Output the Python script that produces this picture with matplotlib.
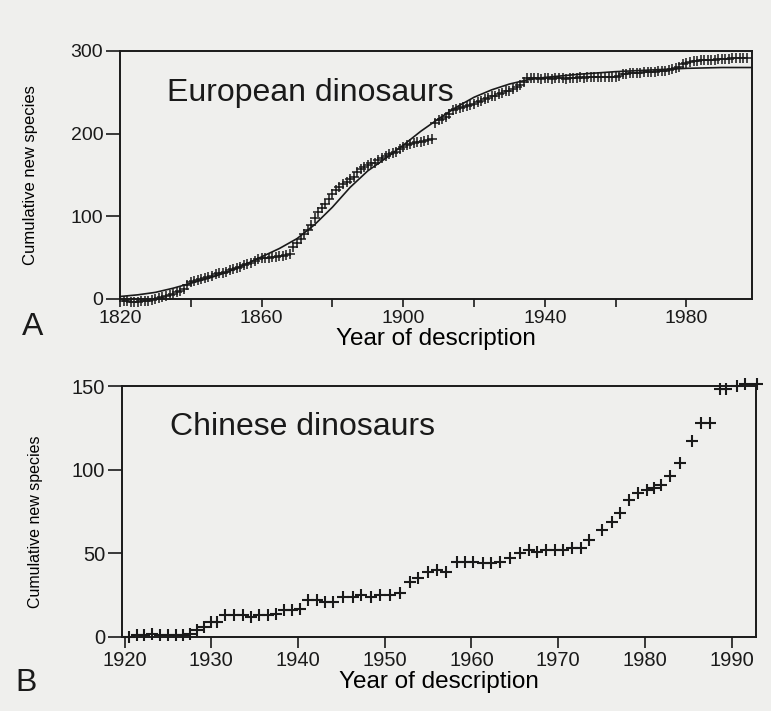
import matplotlib.pyplot as plt

# European dinosaurs: cumulative new species, one reading per year 1821-1997
eu_years = list(range(1821, 1998))
eu_counts = [-2, -3, -4, -4, -4, -3, -3, -2, -1, 0,            # 1821-1830
             1, 2, 3, 5, 6, 8, 10, 12, 17, 20,                 # 1831-1840
             22, 23, 24, 25, 27, 28, 30, 31, 32, 33,           # 1841-1850
             35, 36, 37, 39, 41, 42, 44, 46, 48, 49,           # 1851-1860
             50, 50, 51, 51, 52, 52, 53, 55, 63, 68,           # 1861-1870
             73, 78, 84, 90, 98, 105, 110, 115, 121, 127,      # 1871-1880
             132, 136, 139, 142, 145, 148, 153, 157, 160, 162,  # 1881-1890
             164, 165, 168, 170, 173, 175, 177, 178, 181, 184,  # 1891-1900
             186, 187, 189, 190, 190, 191, 192, 193, 213, 216,  # 1901-1910
             218, 220, 224, 228, 230, 231, 232, 233, 235, 236,  # 1911-1920
             238, 240, 242, 243, 245, 246, 248, 249, 251, 252,  # 1921-1930
             254, 256, 259, 262, 267, 267, 267, 267, 266, 267,  # 1931-1940
             267, 266, 267, 267, 267, 266, 267, 267, 267, 268,  # 1941-1950
             267, 268, 268, 268, 268, 268, 268, 268, 268, 268,  # 1951-1960
             270, 272, 272, 273, 273, 273, 273, 274, 274, 275,  # 1961-1970
             275, 276, 276, 276, 277, 278, 279, 281, 284, 286,  # 1971-1980
             287, 288, 288, 289, 289, 289, 289, 289, 290, 290,  # 1981-1990
             290, 290, 291, 291, 291, 291, 291]                 # 1991-1997

# fitted curve
fit_years = [1820, 1825, 1830, 1835, 1840, 1845, 1850, 1855, 1860, 1865,
             1870, 1875, 1880, 1885, 1890, 1895, 1900, 1905, 1910, 1915,
             1920, 1925, 1930, 1935, 1940, 1950, 1960, 1970, 1980, 1990, 1998.5]
fit_counts = [3, 5, 8, 13, 19, 25, 32, 41, 51, 61,
              73, 90, 111, 135, 155, 170, 186, 203, 218, 232,
              244, 253, 260, 265, 268, 272, 275, 277, 279, 280, 280]

# Chinese dinosaurs
cn_years = [1920.5, 1921.4, 1922.2, 1923.2, 1924.1, 1925.0, 1925.9, 1926.7,
            1927.5, 1928.3, 1929.2, 1930.0, 1930.7, 1931.6, 1932.6, 1933.6,
            1934.6, 1935.5, 1936.5, 1937.5, 1938.4, 1939.3, 1940.2, 1941.2,
            1942.2, 1943.1, 1944.0, 1945.2, 1946.3, 1947.3, 1948.4, 1949.5,
            1950.6, 1951.7, 1952.9, 1953.8, 1955.0, 1956.0, 1957.1, 1958.3,
            1959.2, 1960.2, 1961.3, 1962.3, 1963.3, 1964.4, 1965.6, 1966.6,
            1967.6, 1968.6, 1969.6, 1970.6, 1971.6, 1972.6, 1973.6, 1975.1,
            1976.2, 1977.1, 1978.2, 1979.2, 1980.2, 1981.1, 1981.9, 1982.9,
            1984.0, 1985.4, 1986.5, 1987.5, 1988.6, 1989.4, 1990.6, 1991.5,
            1992.9]
cn_counts = [0, 1, 1, 2, 1, 1, 1, 1,
             2, 4, 6, 9, 9, 13, 13, 13,
             12, 13, 13, 14, 16, 16, 17, 22,
             22, 21, 21, 24, 24, 25, 24, 25,
             25, 26, 33, 35, 39, 40, 39, 45,
             45, 45, 44, 44, 45, 47, 50, 52,
             51, 52, 52, 52, 53, 53, 58, 64,
             69, 74, 82, 86, 88, 89, 91, 96,
             104, 117, 128, 128, 148, 148, 150, 151,
             151]

bg = '#efefed'
ink = '#1a1a1a'
plt.rcParams['font.family'] = ['Liberation Sans', 'DejaVu Sans']
plt.rcParams['text.color'] = ink
plt.rcParams['axes.edgecolor'] = ink
plt.rcParams['xtick.color'] = ink
plt.rcParams['ytick.color'] = ink

fig = plt.figure(figsize=(7.71, 7.11), dpi=100, facecolor=bg)

# A. European dinosaurs
ax1 = fig.add_axes([0.1556, 0.5795, 0.8197, 0.3488], facecolor=bg)
ax1.plot(fit_years, fit_counts, color=ink, lw=1.2, clip_on=False)
ax1.plot(eu_years, eu_counts, '+', color=ink, ms=6.5, mew=1.1, clip_on=False)
ax1.set_xlim(1820, 1998.5)
ax1.set_ylim(0, 300)
ax1.set_xticks([1820, 1840, 1860, 1880, 1900, 1920, 1940, 1960, 1980])
ax1.set_xticklabels(['1820', '', '1860', '', '1900', '', '1940', '', '1980'])
ax1.set_yticks([0, 100, 200, 300])
ax1.tick_params(axis='x', length=6, width=1.2, pad=2, labelsize=14)
ax1.tick_params(axis='y', length=10, width=1.2, pad=2, labelsize=14)
ax1.set_xlabel('Year of description', fontsize=17.5, labelpad=1)
ax1.set_ylabel('Cumulative new species', fontsize=12,
               family=['Liberation Sans Narrow', 'Liberation Sans'])
ax1.yaxis.set_label_coords(-0.13, 0.5)
ax1.text(0.0744, 0.80, 'European dinosaurs', transform=ax1.transAxes,
         fontsize=23, va='baseline')
for s in ax1.spines.values():
    s.set_linewidth(1.4)
fig.text(0.028, 0.54, 'A', fontsize=23, va='center', ha='left')

# B. Chinese dinosaurs
ax2 = fig.add_axes([0.1582, 0.1041, 0.8223, 0.353], facecolor=bg)
ax2.plot(cn_years, cn_counts, '+', color=ink, ms=8, mew=1.5, clip_on=False)
ax2.set_xlim(1919.7, 1992.8)
ax2.set_ylim(0, 150)
ax2.set_xticks([1920, 1930, 1940, 1950, 1960, 1970, 1980, 1990])
ax2.set_yticks([0, 50, 100, 150])
ax2.tick_params(axis='x', length=8, width=1.2, pad=2, labelsize=14.5)
ax2.tick_params(axis='y', length=10, width=1.2, pad=2, labelsize=14.5)
ax2.set_xlabel('Year of description', fontsize=17.5, labelpad=1)
ax2.set_ylabel('Cumulative new species', fontsize=11.5,
               family=['Liberation Sans Narrow', 'Liberation Sans'])
ax2.yaxis.set_label_coords(-0.125, 0.46)
ax2.text(0.0757, 0.805, 'Chinese dinosaurs', transform=ax2.transAxes,
         fontsize=23, va='baseline')
for s in ax2.spines.values():
    s.set_linewidth(1.4)
fig.text(0.02, 0.04, 'B', fontsize=23, va='center', ha='left')

fig.savefig('out.png', dpi=100, facecolor=bg)
